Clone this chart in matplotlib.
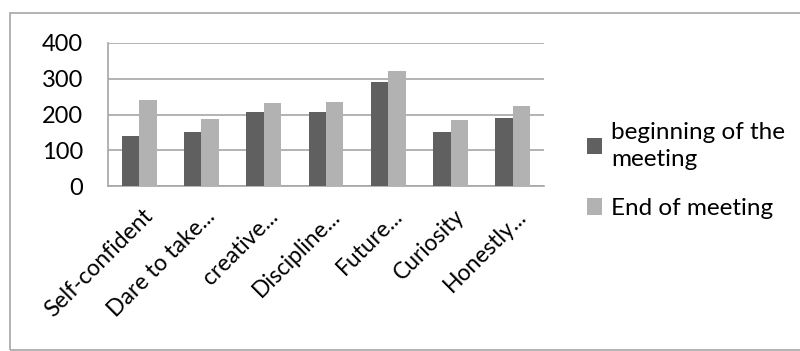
import numpy as np
import matplotlib.pyplot as plt
from matplotlib.patches import Rectangle

# Data
categories = ['Self-confident', 'Dare to take...', 'creative...', 'Discipline...',
              'Future...', 'Curiosity', 'Honestly...']
beginning = [140, 150, 206, 206, 292, 150, 190]
end = [240, 188, 233, 234, 321, 185, 225]
series_names = ['beginning of the\nmeeting', 'End of meeting']

plt.rcParams['font.family'] = ['Lato', 'DejaVu Sans']

fig = plt.figure(figsize=(8, 3.51), dpi=100)
ax = fig.add_axes([0.135, 0.470, 0.545, 0.4075])

x = np.arange(len(categories))
w = 0.28
ax.bar(x - w / 2, beginning, w, color='#606060', label=series_names[0], zorder=3)
ax.bar(x + w / 2, end, w, color='#b2b2b2', label=series_names[1], zorder=3)

ax.set_xlim(-0.5, len(categories) - 0.5)
ax.set_ylim(0, 400)
ax.set_yticks([0, 100, 200, 300, 400])
ax.yaxis.grid(True, color='#a6a6a6', linewidth=1.2, zorder=0)
ax.set_axisbelow(True)

ax.set_xticks(x + 0.05)
ax.set_xticklabels(categories, rotation=45, ha='right', rotation_mode='anchor')
ax.tick_params(axis='y', length=0, pad=18, labelsize=17)
ax.tick_params(axis='x', length=0, pad=14, labelsize=16.5)

for side in ['top', 'right']:
    ax.spines[side].set_visible(False)
for side in ['left', 'bottom']:
    ax.spines[side].set_color('#a6a6a6')
    ax.spines[side].set_linewidth(1.2)

# Legend to the right of the plot
leg = fig.legend(loc='upper left', bbox_to_anchor=(0.721, 0.68), frameon=False,
                 fontsize=17.5, handlelength=0.65, handleheight=0.65, handletextpad=0.35,
                 labelspacing=1.15, borderaxespad=0)
for t in leg.get_texts():
    t.set_linespacing(1.35)

# Outer chart border
fig.patches.append(Rectangle((0.012, 0.003), 1.0, 0.96, transform=fig.transFigure,
                             fill=False, edgecolor='#a6a6a6', linewidth=1.2))

fig.savefig('out.png', dpi=100)
